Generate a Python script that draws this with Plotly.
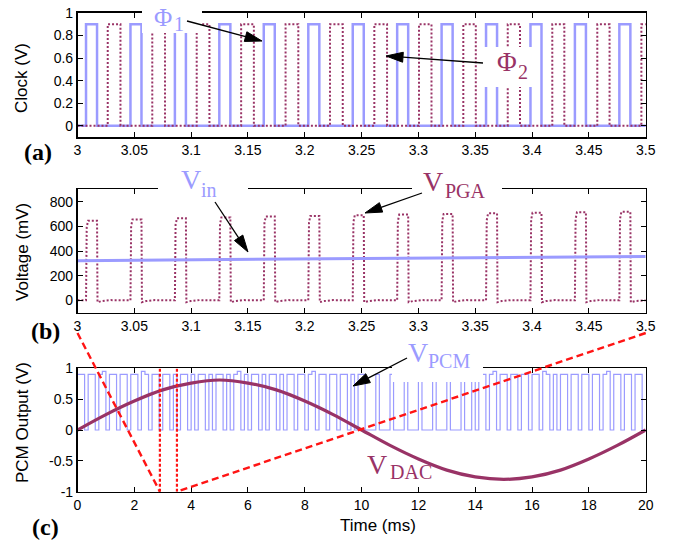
import math
import plotly.graph_objects as go

W, H = 682, 544
OFF = 0  # page body margin removed by post_script below
BLUE = "#9b9bff"
MAG = "#993366"
RED = "#ff1414"

# ---------------- data ----------------
# panel (a): clock edges (ms)
phi1_rise = [3.0075, 3.0466, 3.0857, 3.1248, 3.1639, 3.2031, 3.2422,
             3.2813, 3.3204, 3.3595, 3.3986, 3.4377, 3.4768]
phi1_fall = [3.0172, 3.0563, 3.0954, 3.1345, 3.1736, 3.2128, 3.2519,
             3.2910, 3.3301, 3.3692, 3.4083, 3.4474, 3.4865]
phi2_rise = [3.0266, 3.0658, 3.1049, 3.1440, 3.1831, 3.2222, 3.2612,
             3.3005, 3.3395, 3.3786, 3.4178, 3.4574, 3.4962]
phi2_fall = [3.0378, 3.0770, 3.1161, 3.1552, 3.1943, 3.2334, 3.2724,
             3.3115, 3.3505, 3.3894, 3.4284, 3.4682, 3.5070]
clock_high = 0.9

# panel (b): PGA pulse tops (mV) and input voltage
pga_top = [645, 655, 665, 672, 680, 684, 690, 695, 700, 705, 710, 715, 718]
vin_t = [3.0, 3.25, 3.5]
vin_mv = [322, 340, 356]

# panel (c): DAC output (V) every 1 ms and PCM bit stream
dac_t = list(range(21))
dac_v = [0, 0.25, 0.47, 0.65, 0.76, 0.81, 0.76, 0.65, 0.47, 0.25, 0,
         -0.25, -0.47, -0.65, -0.76, -0.8, -0.76, -0.65, -0.47, -0.25, 0]
pcm_bit_ms = 0.125
pcm_bits = ("11011012" "01101101" "10210110" "11010110" "10110101"
            "10101201" "01101011" "01011011" "01201101" "10110101"
            "10001000" "10001000" "10001000" "10001001" "01101201"
            "10110110" "11021010" "11011011" "01101201" "10110110")
pcm_levels = {"0": 0.0, "1": 0.9, "2": 0.95}

# ticks
ab_ticks = [3, 3.05, 3.1, 3.15, 3.2, 3.25, 3.3, 3.35, 3.4, 3.45, 3.5]
ab_labels = ["3", "3.05", "3.1", "3.15", "3.2", "3.25", "3.3", "3.35", "3.4", "3.45", "3.5"]
a_yticks = [0, 0.2, 0.4, 0.6, 0.8, 1]
a_ylabels = ["0", "0.2", "0.4", "0.6", "0.8", "1"]
b_yticks = [0, 200, 400, 600, 800]
b_ylabels = ["0", "200", "400", "600", "800"]
c_xticks = [0, 2, 4, 6, 8, 10, 12, 14, 16, 18, 20]
c_xlabels = [str(v) for v in c_xticks]
c_yticks = [-1, -0.5, 0, 0.5, 1]
c_ylabels = ["-1", "-0.5", "0", "0.5", "1"]
zoom_window_ms = [2.9, 3.5]


# ---------------- geometry ----------------
def px(x, y):
    """screen pixel -> paper coordinates"""
    return (x - OFF) / W, 1 - (y - OFF) / H


XD = [px(77.5, 0)[0], px(645.7, 0)[0]]
YD_A = [px(0, 137)[1], px(0, 13)[1]]
YD_B = [px(0, 312.7)[1], px(0, 189.3)[1]]
YD_C = [px(0, 491.7)[1], px(0, 368.3)[1]]


def steps(rises, falls, hi, x0, x1):
    xs, ys = [x0], [0]
    for r, f in zip(rises, falls):
        xs += [r, r, f, f]
        ys += [0, hi, hi, 0]
    xs.append(x1)
    ys.append(0)
    return xs, ys


phi1_x, phi1_y = steps(phi1_rise, phi1_fall, clock_high, 3.0, 3.5)
phi2_x, phi2_y = steps(phi2_rise, phi2_fall, clock_high, 3.0, 3.5)

pga_x, pga_y = [3.0], [0]
for r, f, top in zip(phi1_rise, phi1_fall, pga_top):
    pga_x += [r, r + 0.0006, r + 0.0018, f, f + 0.0004, f + 0.004, f + 0.012]
    pga_y += [0, 0.92 * top, top, top, -15, -6, 2]
pga_x.append(3.5)
pga_y.append(0)

pcm_t = [i * pcm_bit_ms for i in range(len(pcm_bits) + 1)]
pcm_v = [pcm_levels[b] for b in pcm_bits]
pcm_v.append(pcm_v[-1])

fig = go.Figure()
fig.add_trace(go.Scatter(x=phi1_x, y=phi1_y, mode="lines", xaxis="x", yaxis="y",
                         line=dict(color=BLUE, width=2.5)))
fig.add_trace(go.Scatter(x=phi2_x, y=phi2_y, mode="lines", xaxis="x", yaxis="y",
                         line=dict(color=MAG, width=2, dash="2px,2px")))
fig.add_trace(go.Scatter(x=pga_x, y=pga_y, mode="lines", xaxis="x2", yaxis="y2",
                         line=dict(color=MAG, width=2, dash="2px,2px")))
fig.add_trace(go.Scatter(x=vin_t, y=vin_mv, mode="lines", xaxis="x2", yaxis="y2",
                         line=dict(color=BLUE, width=3)))
fig.add_trace(go.Scatter(x=pcm_t, y=pcm_v, mode="lines", xaxis="x3", yaxis="y3",
                         line=dict(color=BLUE, width=1.2, shape="hv")))
fig.add_trace(go.Scatter(x=dac_t, y=dac_v, mode="lines", xaxis="x3", yaxis="y3",
                         line=dict(color=MAG, width=3.2, shape="spline")))

TICKFONT = dict(family="Liberation Sans, Arial, sans-serif", size=14, color="black")


def ax(**kw):
    d = dict(showline=True, linecolor="black", linewidth=1.6, mirror="ticks",
             ticks="inside", ticklen=5, tickwidth=1, tickcolor="black",
             showgrid=False, zeroline=False, tickfont=TICKFONT, automargin=False)
    d.update(kw)
    return d


fig.update_layout(
    width=W, height=H, margin=dict(l=0, r=0, t=0, b=0),
    paper_bgcolor="white", plot_bgcolor="white", showlegend=False,
    xaxis=ax(domain=XD, anchor="y", range=[3, 3.5], tickvals=ab_ticks, ticktext=ab_labels),
    yaxis=ax(domain=YD_A, anchor="x", range=[-0.1, 1], tickvals=a_yticks, ticktext=a_ylabels),
    xaxis2=ax(domain=XD, anchor="y2", range=[3, 3.5], tickvals=ab_ticks, ticktext=ab_labels),
    yaxis2=ax(domain=YD_B, anchor="x2", range=[-100, 900], tickvals=b_yticks, ticktext=b_ylabels),
    xaxis3=ax(domain=XD, anchor="y3", range=[0, 20], tickvals=c_xticks, ticktext=c_xlabels),
    yaxis3=ax(domain=YD_C, anchor="x3", range=[-1, 1], tickvals=c_yticks, ticktext=c_ylabels),
)

SERIF = "Liberation Serif, Times New Roman, serif"
SANS = "Liberation Sans, Arial, sans-serif"
ann = []


def text_at(text, cx, cy, font, angle=0):
    x, y = px(cx, cy)
    ann.append(dict(x=x, y=y, xref="paper", yref="paper", text=text, showarrow=False,
                    xanchor="center", yanchor="middle", textangle=angle, font=font))


# axis titles
for text, yc in [("Clock (V)", 78), ("Voltage (mV)", 252), ("PCM Output (V)", 423)]:
    text_at(text, 22, yc, dict(family=SANS, size=17, color="black"), angle=-90)
text_at("Time (ms)", 378, 525, dict(family=SANS, size=17, color="black"))

# panel letters
for text, (cx, cy) in [("(a)", (38, 152)), ("(b)", (45, 331)), ("(c)", (45, 527))]:
    text_at("<b>%s</b>" % text, cx, cy, dict(family=SERIF, size=24, color="black"))

shapes = []

# white boxes behind signal labels
for x0, y0, x1, y1 in [(142, 0, 202, 33), (483, 47, 532, 87), (158, 165, 248, 200),
                       (412, 165, 502, 200), (392, 335, 483, 382)]:
    a = px(x0, y0)
    b = px(x1, y1)
    shapes.append(dict(type="rect", xref="paper", yref="paper", x0=a[0], y0=b[1],
                       x1=b[0], y1=a[1], fillcolor="white", line=dict(width=0),
                       layer="above"))

# signal labels: main symbol + subscript
sig_labels = [
    ("Φ", "1", BLUE, (163, 17), (179, 24), 25),
    ("Φ", "2", MAG, (507, 62), (523, 72), 27),
    ("V", "in", BLUE, (191, 180), (209, 190), 28),
    ("V", "PGA", MAG, (433, 182), (466, 191), 28),
    ("V", "PCM", BLUE, (418, 352), (449, 361), 28),
    ("V", "DAC", MAG, (377, 464), (411, 472), 28),
]
for main, sub, col, (mx, my), (sx, sy), size in sig_labels:
    text_at(main, mx, my, dict(family=SERIF, size=size, color=col))
    text_at(sub, sx, sy, dict(family=SERIF, size=20, color=col))


def arrow(tail, head, length=17, width=10):
    tx, ty = tail
    hx, hy = head
    dx, dy = hx - tx, hy - ty
    L = math.hypot(dx, dy)
    ux, uy = dx / L, dy / L
    bx, by = hx - ux * length, hy - uy * length
    nx, ny = -uy, ux
    p1 = (bx + nx * width / 2, by + ny * width / 2)
    p2 = (bx - nx * width / 2, by - ny * width / 2)
    a = px(tx, ty)
    b = px(bx, by)
    shapes.append(dict(type="line", xref="paper", yref="paper", x0=a[0], y0=a[1],
                       x1=b[0], y1=b[1], line=dict(color="black", width=1.3), layer="above"))
    pts = [px(hx, hy), px(*p1), px(*p2)]
    path = "M %f,%f L %f,%f L %f,%f Z" % (pts[0][0], pts[0][1], pts[1][0], pts[1][1],
                                         pts[2][0], pts[2][1])
    shapes.append(dict(type="path", xref="paper", yref="paper", path=path,
                       fillcolor="black", line=dict(color="black", width=1), layer="above"))


arrow((187, 21), (262, 41))
arrow((483, 63), (386, 56))
arrow((215, 202), (248, 252))
arrow((422, 193), (365, 213))
arrow((407, 358), (353, 386))

# zoom lines from panel (b) to panel (c)
for t in zoom_window_ms:
    shapes.append(dict(type="line", xref="x3", yref="y3", x0=t, x1=t, y0=-1, y1=1,
                       line=dict(color=RED, width=2.2, dash="3px,2px"), layer="above"))
y_top = px(0, 333)[1]
for xb, t in zip([XD[0], XD[1]], zoom_window_ms):
    xc = XD[0] + (t - 0) / 20 * (XD[1] - XD[0])
    shapes.append(dict(type="line", xref="paper", yref="paper", x0=xb, y0=y_top,
                       x1=xc, y1=YD_C[0], line=dict(color=RED, width=2.4, dash="7px,4px"),
                       layer="above"))

fig.update_layout(annotations=ann, shapes=shapes)
fig.write_html("out.html",
               config={"displayModeBar": False, "staticPlot": True},
               post_script="document.body.style.margin='0px';document.body.style.overflow='hidden';")
